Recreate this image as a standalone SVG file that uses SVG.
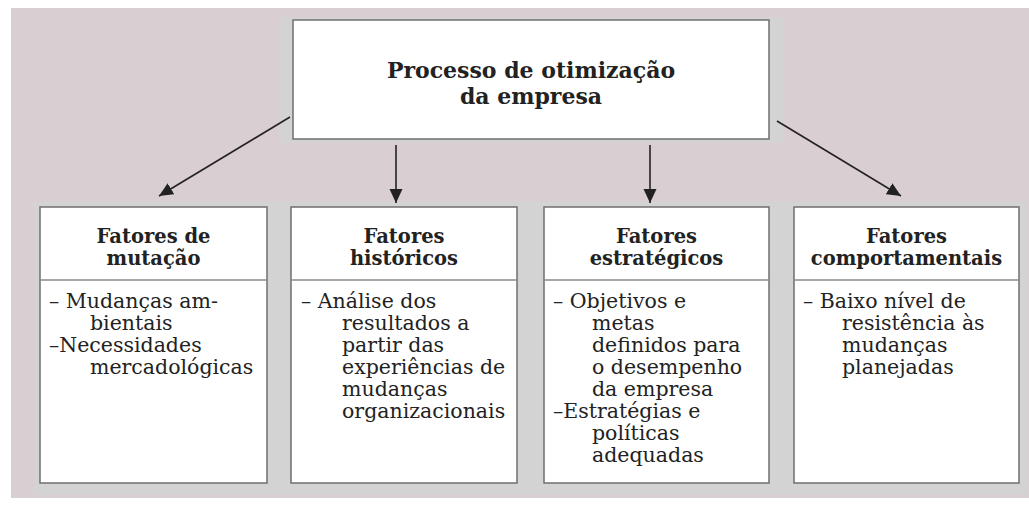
<svg xmlns="http://www.w3.org/2000/svg" width="1029" height="509" viewBox="0 0 1029 509">
<style>
.bg{fill:#d9cfd3}
.halo{fill:#d4d3d4}
.box{fill:#ffffff;stroke:#6f6f6f;stroke-width:1.5}
.div{stroke:#8a8a8a;stroke-width:1.5}
.t{font-family:"DejaVu Serif","Liberation Serif",serif;fill:#222}
.h{font-weight:bold;font-size:19.5px;text-anchor:middle}
.main{font-weight:bold;font-size:22px;text-anchor:middle}
.b{font-size:20.5px}
.conn{stroke:#222;stroke-width:1.6;fill:none}
</style>
<defs>
<marker id="ah" markerUnits="userSpaceOnUse" markerWidth="15" markerHeight="15" viewBox="0 0 15 15" refX="14" refY="7.5" orient="auto">
<path d="M0,1 L14,7.5 L0,14 Z" fill="#222"/>
</marker>
</defs>
<rect x="0" y="0" width="1029" height="509" fill="#ffffff"/>
<rect class="bg" x="11" y="8" width="1018" height="490"/>
<rect class="halo" x="279" y="17" width="504" height="126"/>
<rect class="halo" x="33" y="202" width="994" height="293"/>

<g id="connectors">
<line class="conn" x1="290" y1="117" x2="159" y2="196" marker-end="url(#ah)"/>
<line class="conn" x1="396" y1="145" x2="396" y2="203" marker-end="url(#ah)"/>
<line class="conn" x1="650" y1="145" x2="650" y2="203" marker-end="url(#ah)"/>
<line class="conn" x1="777" y1="121" x2="901" y2="196" marker-end="url(#ah)"/>
</g>

<g id="top">
<rect class="box" x="293" y="20" width="476" height="119"/>
<text class="t main" x="531" y="78">Processo de otimização</text>
<text class="t main" x="531" y="104">da empresa</text>
</g>

<g id="mutacao">
<rect class="box" x="40" y="207" width="227" height="276"/>
<line class="div" x1="40" y1="280" x2="267" y2="280"/>
<text class="t h" x="153.5" y="243">Fatores de</text>
<text class="t h" x="153.5" y="265">mutação</text>
<text class="t b"><tspan x="49" y="308">– Mudanças am-</tspan><tspan x="90" y="330">bientais</tspan><tspan x="49" y="352">–Necessidades</tspan><tspan x="90" y="374">mercadológicas</tspan></text>
</g>

<g id="historicos">
<rect class="box" x="291" y="207" width="226" height="276"/>
<line class="div" x1="291" y1="280" x2="517" y2="280"/>
<text class="t h" x="404" y="243">Fatores</text>
<text class="t h" x="404" y="265">históricos</text>
<text class="t b"><tspan x="301" y="308">– Análise dos</tspan><tspan x="342" y="330">resultados a</tspan><tspan x="342" y="352">partir das</tspan><tspan x="342" y="374">experiências de</tspan><tspan x="342" y="396">mudanças</tspan><tspan x="342" y="418">organizacionais</tspan></text>
</g>

<g id="estrategicos">
<rect class="box" x="544" y="207" width="225" height="276"/>
<line class="div" x1="544" y1="280" x2="769" y2="280"/>
<text class="t h" x="656.5" y="243">Fatores</text>
<text class="t h" x="656.5" y="265">estratégicos</text>
<text class="t b"><tspan x="553" y="308">– Objetivos e</tspan><tspan x="592" y="330">metas</tspan><tspan x="592" y="352">definidos para</tspan><tspan x="592" y="374">o desempenho</tspan><tspan x="592" y="396">da empresa</tspan><tspan x="553" y="418">–Estratégias e</tspan><tspan x="592" y="440">políticas</tspan><tspan x="592" y="462">adequadas</tspan></text>
</g>

<g id="comportamentais">
<rect class="box" x="794" y="207" width="225" height="276"/>
<line class="div" x1="794" y1="280" x2="1019" y2="280"/>
<text class="t h" x="906.5" y="243">Fatores</text>
<text class="t h" x="906.5" y="265">comportamentais</text>
<text class="t b"><tspan x="803" y="308">– Baixo nível de</tspan><tspan x="842" y="330">resistência às</tspan><tspan x="842" y="352">mudanças</tspan><tspan x="842" y="374">planejadas</tspan></text>
</g>
</svg>
